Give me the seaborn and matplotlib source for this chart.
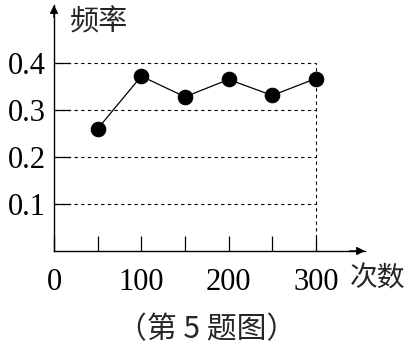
import matplotlib
matplotlib.use("Agg")
import matplotlib.pyplot as plt
import seaborn as sns
import pandas as pd

sns.set_style("white")
plt.rcParams['font.family'] = ['Liberation Serif', 'Noto Sans CJK SC', 'DejaVu Sans']

trials = [50, 100, 150, 200, 250, 300]
freq = [0.26, 0.372, 0.328, 0.365, 0.331, 0.367]
xtick_vals = [0, 50, 100, 150, 200, 250, 300]
xtick_labels = ['0', '', '100', '', '200', '', '300']
ytick_vals = [0.1, 0.2, 0.3, 0.4]
ytick_labels = ['0.1', '0.2', '0.3', '0.4']
ylabel = '频率'
xlabel = '次数'
caption = '（第 5 题图）'

df = pd.DataFrame({'n': trials, 'f': freq})

W, H = 414, 350
fig = plt.figure(figsize=(W / 100, H / 100), dpi=100)
# axes pixel box: x from 54 to 365, y from 251 (0) to 5 (top)
ax = fig.add_axes([54 / W, (H - 251) / H, (365 - 54) / W, (251 - 5) / H])
xmax = (365 - 54) / 0.873
ymax = (251 - 5) / 470
ax.set_xlim(0, xmax)
ax.set_ylim(0, ymax)

dash = (0, (3, 3))
for yv in ytick_vals:
    ax.hlines(yv, 0, 300, colors='black', linestyles=dash, lw=0.8)
ax.vlines(300, 0, 0.4, colors='black', linestyles=dash, lw=0.8)

sns.lineplot(data=df, x='n', y='f', ax=ax, color='black', lw=0.9,
             marker='o', markersize=10.5, markeredgecolor='black',
             markerfacecolor='black')

for s in ['top', 'right']:
    ax.spines[s].set_visible(False)
for s in ['left', 'bottom']:
    ax.spines[s].set_linewidth(1.0)
    ax.spines[s].set_color('black')

ax.set_xticks(xtick_vals)
ax.set_xticklabels(xtick_labels, fontsize=22)
ax.set_yticks(ytick_vals)
ax.set_yticklabels(ytick_labels, fontsize=22)
ax.tick_params(axis='x', bottom=True, direction='in', length=11, width=0.9,
               pad=12, colors='black')
ax.tick_params(axis='y', left=True, direction='in', length=11.5, width=0.9,
               pad=6, colors='black')
ax.set_xlabel('')
ax.set_ylabel('')

# arrows
ax.annotate('', xy=(1.0, 0), xytext=(0.95, 0), xycoords='axes fraction',
            arrowprops=dict(arrowstyle='-|>', color='black', lw=1.0,
                            mutation_scale=12, shrinkA=0, shrinkB=0))
ax.annotate('', xy=(0, 1.0), xytext=(0, 0.95), xycoords='axes fraction',
            arrowprops=dict(arrowstyle='-|>', color='black', lw=1.0,
                            mutation_scale=12, shrinkA=0, shrinkB=0))

fig.text(70 / W, 1 - 23 / H, ylabel, fontsize=21, family=['Noto Sans CJK SC'],
         ha='left', va='center')
fig.text(350 / W, 1 - 279 / H, xlabel, fontsize=20, family=['Noto Sans CJK SC'],
         ha='left', va='center')
fig.text(207 / W, 1 - 330 / H, caption, fontsize=21.5,
         family=['Noto Sans CJK SC', 'DejaVu Sans'], ha='center', va='center')

fig.savefig('out.png', dpi=100)
